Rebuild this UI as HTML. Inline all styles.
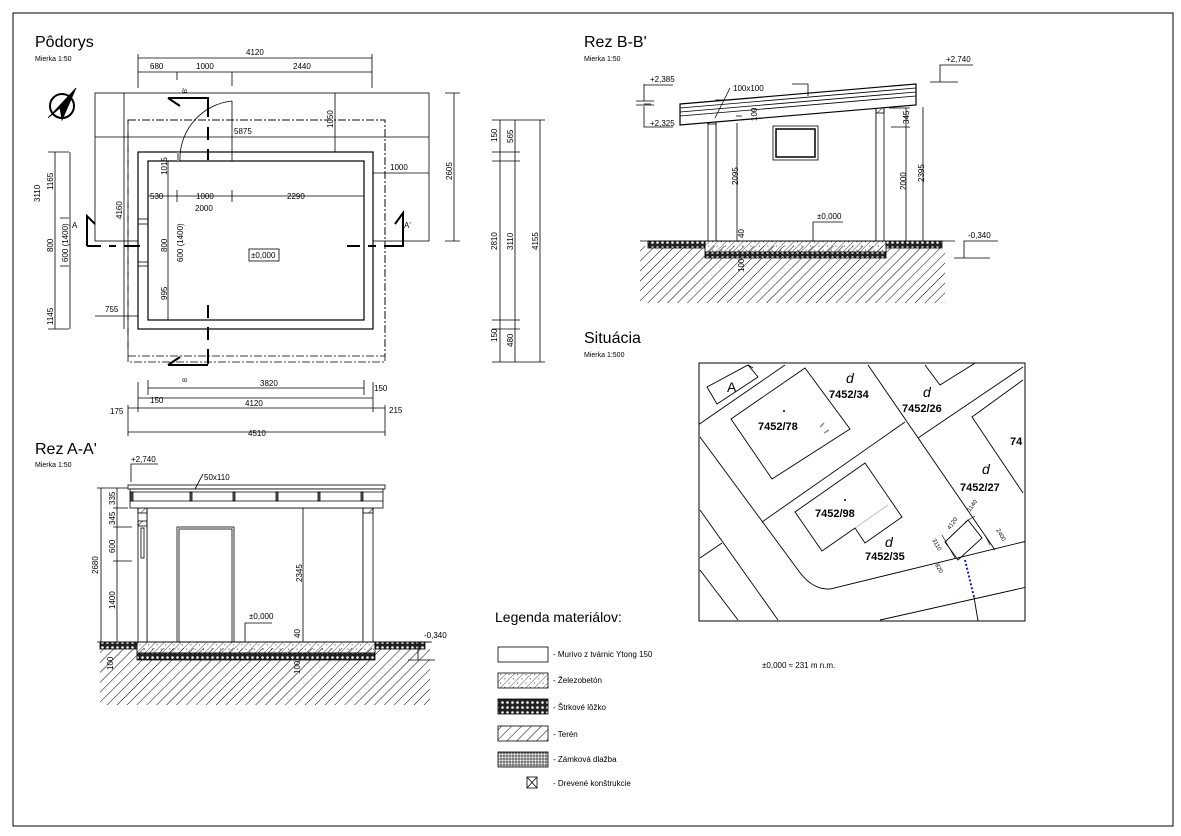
<!DOCTYPE html>
<html><head><meta charset="utf-8"><style>
html,body{margin:0;padding:0;background:#fff;}
svg{display:block;font-family:"Liberation Sans",sans-serif;}
text{fill:#000;}
</style></head><body>
<svg width="1181" height="836" viewBox="0 0 1181 836" xmlns="http://www.w3.org/2000/svg">
<defs>
<pattern id="hatch" width="7" height="7" patternUnits="userSpaceOnUse" patternTransform="rotate(45)">
<line x1="0" y1="0" x2="0" y2="7" stroke="#000" stroke-width="1"/></pattern>
<pattern id="conc" width="6" height="6" patternUnits="userSpaceOnUse" patternTransform="rotate(45)">
<line x1="0" y1="0" x2="0" y2="6" stroke="#000" stroke-width="0.7"/><circle cx="3" cy="3" r="0.5"/></pattern>
<pattern id="grav" width="5" height="5" patternUnits="userSpaceOnUse">
<rect width="5" height="5" fill="#222"/><circle cx="2.5" cy="2.5" r="1.3" fill="#fff"/></pattern>
<pattern id="grid" width="3" height="3" patternUnits="userSpaceOnUse">
<rect width="3" height="3" fill="#fff" stroke="#000" stroke-width="0.6"/></pattern>
<clipPath id="sit"><rect x="699" y="363" width="326" height="258"/></clipPath>
</defs>
<rect x="13" y="13" width="1160" height="813" fill="none" stroke="#000" stroke-width="1"/>

<!-- ===== PODORYS ===== -->
<text x="35" y="47" font-size="16">Pôdorys</text>
<text x="35" y="61" font-size="7">Mierka 1:50</text>
<g stroke="#000" fill="none" stroke-width="0.8">
<!-- compass -->
<circle cx="62" cy="106" r="12" stroke-width="2"/>
<path d="M48 118 L76 88 L62 120 L60 108 Z" fill="#000"/>
<!-- paving -->
<rect x="95" y="93" width="334" height="148"/>
<!-- dash-dot roof -->
<rect x="128" y="120" width="257" height="242" stroke-dasharray="8 2 2 2"/>
<rect x="128" y="120" width="257" height="236" stroke-dasharray="8 2 2 2"/>
<!-- walls -->
<rect x="138" y="152" width="235" height="177" stroke-width="1.2" fill="#fff"/>
<rect x="148" y="161" width="216" height="159" stroke-width="1.2"/>
<line x1="178" y1="152" x2="178" y2="161" stroke="#fff" stroke-width="2"/>
<line x1="138" y1="219" x2="148" y2="219"/><line x1="138" y1="224" x2="148" y2="224"/>
<line x1="138" y1="262" x2="148" y2="262"/><line x1="138" y1="266" x2="148" y2="266"/>
<!-- door -->
<line x1="232" y1="101" x2="232" y2="161"/>
<path d="M232 101 A58 58 0 0 0 180 161"/>
<line x1="178" y1="152" x2="178" y2="161"/>
<!-- section B -->
<path d="M208 103 V117 M208 127 V140 M208 149 V160 M208 305 V318 M208 327 V340 M208 349 V364" stroke-width="2"/>
<path d="M168 98 H208 V103 M168 98 L180 106" stroke-width="2"/>
<path d="M168 365 H208 M168 365 L180 357" stroke-width="2"/>
<!-- section A -->
<path d="M87 246 H101 M109 246 H116 M124 246 H140" stroke-width="2"/>
<path d="M87 246 V216 L95 224" stroke-width="2"/>
<path d="M347 246 H360 M368 246 H376 M384 246 H403 V213 L395 224" stroke-width="2"/>
<!-- dimension lines -->
<path d="M138 58 H372 M138 72 H372 M177 72 V80 M232 72 V86 M138 54 V88 M372 54 V88"/>
<path d="M95 137 H429 M335 93 V152 M373 173 H429"/>
<path d="M148 196 H364 M177 190 V202 M232 190 V202 M168 161 V320 M168 222 V273"/>
<path d="M124 93 V329 M95 316 H138"/>
<path d="M55 152 V329 M70 152 V329 M70 218 V266 M48 152 H69 M48 329 H69 M60 218 H69 M60 266 H69"/>
<path d="M454 93 V241 M445 241 H460 M445 93 H460"/>
<path d="M500 120 V362 M515 120 V362 M540 120 V362 M492 152 H520 M492 161 H520 M492 320 H520 M492 329 H520 M492 120 H545 M492 362 H545"/>
<path d="M148 388 H364 M138 398 H373 M128 408 H385 M128 432 H385 M138 382 V412 M148 380 V395 M364 380 V395 M373 382 V412 M128 405 V436 M385 405 V436"/>
</g>
<g font-size="8">
<text x="246" y="55">4120</text><text x="150" y="69">680</text><text x="196" y="69">1000</text><text x="293" y="69">2440</text>
<text x="234" y="134">5875</text><text x="390" y="170">1000</text>
<text x="150" y="199">530</text><text x="196" y="199">1000</text><text x="287" y="199">2290</text><text x="195" y="211">2000</text>
<text x="105" y="312">755</text>
<rect x="249" y="249" width="30" height="12" fill="none" stroke="#000" stroke-width="0.8"/><text x="251" y="258">±0,000</text>
<text x="72" y="228">A</text><text x="404" y="228">A'</text>
<text x="260" y="386">3820</text><text x="150" y="403">150</text><text x="374" y="391">150</text>
<text x="245" y="406">4120</text><text x="110" y="414">175</text><text x="389" y="413">215</text><text x="248" y="436">4510</text>
<g transform="rotate(-90)">
<text x="-202" y="40">3110</text><text x="-190" y="53">1165</text><text x="-252" y="53">800</text><text x="-262" y="68">600 (1400)</text><text x="-325" y="53">1145</text>
<text x="-219" y="122">4160</text><text x="-175" y="167">1015</text><text x="-252" y="167">800</text><text x="-262" y="183">600 (1400)</text><text x="-300" y="167">995</text>
<text x="-128" y="333">1050</text><text x="-180" y="452">2605</text>
<text x="-142" y="497">150</text><text x="-143" y="513">565</text><text x="-250" y="497">2810</text><text x="-250" y="513">3110</text><text x="-250" y="538">4155</text>
<text x="-342" y="497">150</text><text x="-347" y="513">480</text>
<text x="-93" y="187" font-size="6">B'</text><text x="-382" y="187" font-size="6">B</text>
</g>
</g>

<!-- ===== REZ B-B' ===== -->
<text x="584" y="47" font-size="16">Rez B-B'</text>
<text x="584" y="61" font-size="7">Mierka 1:50</text>
<g stroke="#000" stroke-width="0.8">
<rect x="640" y="246" width="305" height="57" fill="url(#hatch)" stroke="none"/>
<rect x="648" y="241" width="57" height="7" fill="url(#grav)"/>
<rect x="886" y="241" width="56" height="7" fill="url(#grav)"/>
<rect x="705" y="241" width="181" height="11" fill="url(#conc)"/>
<rect x="705" y="252" width="181" height="6" fill="url(#grav)"/>
<rect x="716" y="100" width="160" height="141" fill="#fff"/>
<rect x="708" y="118" width="8" height="123" fill="#fff"/>
<rect x="876" y="101" width="8" height="140" fill="#fff"/>
<rect x="708" y="118" width="8" height="6" fill="url(#hatch)"/>
<rect x="876" y="107" width="8" height="6" fill="url(#hatch)"/>
<polygon points="680,104 916,84 916,105 680,125" fill="#fff" stroke-width="1.2"/>
<line x1="680" y1="108" x2="916" y2="88"/><line x1="680" y1="112" x2="916" y2="92"/><line x1="680" y1="116" x2="916" y2="96"/>
<rect x="773" y="126" width="45" height="34" fill="#fff"/><rect x="776" y="129" width="39" height="28" fill="none" stroke-width="1.5"/>
<line x1="640" y1="241" x2="955" y2="241"/>
<path d="M737 123 V241 M736 116 H742 M906 108 V241 M889 108 H910 M891 127 H910 M923 107 V241" fill="none"/>
<path d="M644 84 V101 M644 85 H673 M644 104 H651 M636 101 H654 M636 105 H654 M644 106 V127 H673" fill="none"/>
<path d="M940 82 V65 H973 M930 82 H958" fill="none"/>
<path d="M964 258 V241 H998 M954 258 H990" fill="none"/>
<path d="M813 241 V222 H843" fill="none"/>
<path d="M730 88 L715 118" fill="none"/>
<path d="M792 84 H808 V96" fill="none"/>
</g>
<g font-size="8">
<text x="650" y="82">+2,385</text><text x="650" y="126">+2,325</text><text x="733" y="91">100x100</text>
<text x="946" y="62">+2,740</text><text x="968" y="238">-0,340</text><text x="817" y="219">±0,000</text>
<g transform="rotate(-90)">
<text x="-185" y="738">2095</text><text x="-121" y="757">100</text><text x="-190" y="906">2000</text><text x="-182" y="924">2395</text><text x="-124" y="909">345</text>
<text x="-238" y="744">40</text><text x="-272" y="744">100</text>
</g>
</g>

<!-- ===== REZ A-A' ===== -->
<text x="35" y="454" font-size="16">Rez A-A'</text>
<text x="35" y="467" font-size="7">Mierka 1:50</text>
<g stroke="#000" stroke-width="0.8">
<rect x="100" y="648" width="330" height="57" fill="url(#hatch)" stroke="none"/>
<rect x="100" y="642" width="37" height="7" fill="url(#grav)"/>
<rect x="375" y="642" width="50" height="7" fill="url(#grav)"/>
<rect x="137" y="642" width="238" height="11" fill="url(#conc)"/>
<rect x="137" y="653" width="238" height="7" fill="url(#grav)"/>
<rect x="147" y="508" width="216" height="134" fill="#fff"/>
<rect x="138" y="508" width="9" height="134" fill="#fff"/>
<rect x="363" y="508" width="10" height="134" fill="#fff"/>
<rect x="138" y="508" width="9" height="5" fill="url(#hatch)"/>
<rect x="138" y="521" width="9" height="5" fill="url(#hatch)"/>
<rect x="363" y="508" width="10" height="5" fill="url(#hatch)"/>
<rect x="141" y="528" width="3" height="30" fill="none"/>
<rect x="128" y="485" width="257" height="4" fill="#fff"/>
<rect x="130" y="489" width="253" height="19" fill="#fff"/>
<line x1="130" y1="492" x2="383" y2="492"/><line x1="130" y1="501" x2="383" y2="501"/>
<g fill="#666"><rect x="131" y="492" width="2" height="9"/><rect x="190" y="492" width="2" height="9"/><rect x="233" y="492" width="2" height="9"/><rect x="276" y="492" width="2" height="9"/><rect x="318" y="492" width="2" height="9"/><rect x="361" y="492" width="2" height="9"/></g>
<rect x="177" y="527" width="57" height="115" fill="none"/><rect x="179" y="529" width="53" height="113" fill="none"/>
<line x1="100" y1="642" x2="430" y2="642"/>
<path d="M101 488 V642 M117 488 V642 M97 488 H128 M113 508 H128 M113 527 H132 M113 561 H132 M97 642 H117" fill="none"/>
<path d="M303 508 V642 M245 642 V623 H272" fill="none"/>
<path d="M131 482 V464 H158 M195 489 L203 474" fill="none"/>
<path d="M418 660 V642 H432 M408 660 H435" fill="none"/>
</g>
<g font-size="8">
<text x="131" y="462">+2,740</text><text x="204" y="480">50x110</text><text x="249" y="619">±0,000</text><text x="424" y="638">-0,340</text>
<g transform="rotate(-90)">
<text x="-574" y="98">2680</text><text x="-505" y="115">335</text><text x="-525" y="115">345</text><text x="-553" y="115">600</text><text x="-609" y="115">1400</text>
<text x="-582" y="302">2345</text><text x="-638" y="300">40</text><text x="-674" y="300">100</text><text x="-670" y="113">100</text>
</g>
</g>

<!-- ===== LEGEND ===== -->
<text x="495" y="622" font-size="14">Legenda materiálov:</text>
<g stroke="#000" stroke-width="0.8">
<rect x="498" y="647" width="50" height="15" fill="#fff"/>
<rect x="498" y="673" width="50" height="15" fill="url(#conc)"/>
<rect x="498" y="699" width="50" height="15" fill="url(#grav)"/>
<rect x="498" y="726" width="50" height="15" fill="url(#hatch)"/>
<rect x="498" y="752" width="50" height="15" fill="url(#grid)"/>
<rect x="527" y="777" width="10" height="11" fill="none"/><path d="M527 777 L537 788 M537 777 L527 788"/>
</g>
<g font-size="8">
<text x="553" y="657">- Murivo z tvárnic Ytong 150</text>
<text x="553" y="683">- Železobetón</text>
<text x="553" y="710">- Štrkové lôžko</text>
<text x="553" y="737">- Terén</text>
<text x="553" y="762">- Zámková dlažba</text>
<text x="553" y="786">- Drevené konštrukcie</text>
<text x="762" y="668">±0,000 ≈ 231 m n.m.</text>
</g>

<!-- ===== SITUACIA ===== -->
<text x="584" y="343" font-size="16">Situácia</text>
<text x="584" y="357" font-size="7">Mierka 1:500</text>
<rect x="699" y="363" width="326" height="258" fill="none" stroke="#000" stroke-width="1"/>
<g clip-path="url(#sit)" stroke="#000" stroke-width="0.9" fill="none">
<polygon points="707,387 748,365 758,377 717,404"/>
<polyline points="748,365 753,368"/>
<line x1="698" y1="425" x2="785" y2="365"/>
<polygon points="731,419 805,368 850,429 772,479"/>
<path d="M700 437 L798 570 Q812 590 830 589 L1027 541"/>
<line x1="868" y1="365" x2="995" y2="550"/>
<line x1="762" y1="522" x2="905" y2="422"/>
<line x1="918" y1="438" x2="1023" y2="367"/>
<path d="M1023 380 L972 417 L1023 493"/>
<polygon points="795,512 865,463 902,517 865,543 855,528 822,551"/>
<line x1="880" y1="620" x2="1027" y2="587"/>
<line x1="700" y1="510" x2="778" y2="620"/>
<line x1="700" y1="570" x2="738" y2="620"/>
<line x1="700" y1="558" x2="722" y2="543"/>
<path d="M925 365 L940 385 L980 360"/>
<polygon points="945,542 968,520 982,538 958,560"/>
<line x1="974" y1="597" x2="978" y2="621"/>
<path d="M942 535 L955 558 M965 522 L975 516 M985 535 L990 545" stroke-width="0.6"/>
<path d="M965 560 L974 597" stroke="#1020c0" stroke-width="2" stroke-dasharray="2 2"/>
<path d="M855 528 L888 505" stroke="#999" stroke-width="0.6"/>
<path d="M820 427 l4 -4 M824 433 l5 -3" stroke="#888" stroke-width="1.5"/>
</g>
<g font-size="11" font-weight="bold">
<text x="846" y="383" font-style="italic" font-weight="normal" font-size="14">d</text>
<text x="829" y="398">7452/34</text>
<text x="923" y="397" font-style="italic" font-weight="normal" font-size="14">d</text>
<text x="902" y="412">7452/26</text>
<text x="758" y="430">7452/78</text>
<text x="1010" y="445">74</text>
<text x="982" y="474" font-style="italic" font-weight="normal" font-size="14">d</text>
<text x="960" y="491">7452/27</text>
<text x="815" y="517">7452/98</text>
<text x="885" y="547" font-style="italic" font-weight="normal" font-size="14">d</text>
<text x="865" y="560">7452/35</text>
<text x="727" y="392" font-weight="normal" font-size="14">A</text>
</g>
<circle cx="784" cy="411" r="1"/><circle cx="845" cy="500" r="1"/>
<g font-size="6">
<text transform="translate(950,530) rotate(-55)">4120</text>
<text transform="translate(932,540) rotate(60)">3110</text>
<text transform="translate(970,512) rotate(-55)">1140</text>
<text transform="translate(996,530) rotate(60)">2400</text>
<text transform="translate(935,565) rotate(60)">820</text>
</g>
</svg>
</body></html>
